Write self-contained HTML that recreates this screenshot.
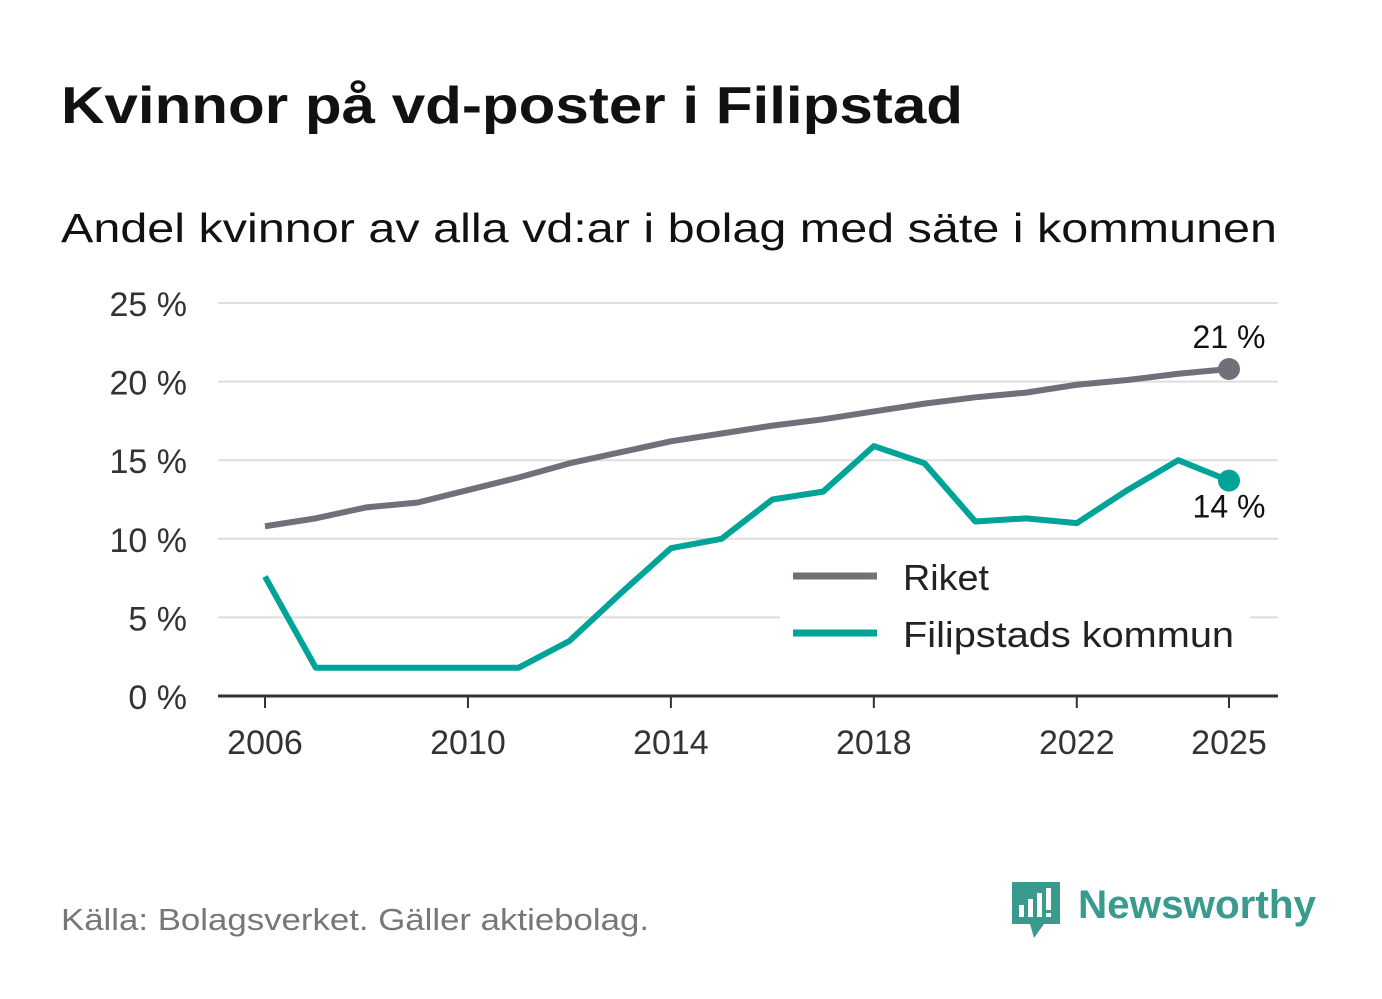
<!DOCTYPE html>
<html><head><meta charset="utf-8">
<style>
body{margin:0;background:#fff;width:1382px;height:999px;overflow:hidden;font-family:"Liberation Sans","DejaVu Sans",sans-serif;}
svg{display:block}
</style></head>
<body>
<svg id="chart" width="1382" height="999">
<text x="61" y="123" font-size="52" font-weight="bold" fill="#111" textLength="902" lengthAdjust="spacingAndGlyphs">Kvinnor på vd-poster i Filipstad</text>
<text x="61" y="242" font-size="41" fill="#111" textLength="1216" lengthAdjust="spacingAndGlyphs">Andel kvinnor av alla vd:ar i bolag med säte i kommunen</text>
<g id="grid"></g><g id="lines"></g>
<g>
<rect x="780" y="555" width="470" height="110" fill="#fff"/>
<line x1="793" y1="576" x2="877" y2="576" stroke="#707078" stroke-width="7"/>
<text x="903" y="590" font-size="36" fill="#222" textLength="86" lengthAdjust="spacingAndGlyphs">Riket</text>
<line x1="793" y1="633" x2="877" y2="633" stroke="#00a398" stroke-width="7"/>
<text x="903" y="647" font-size="36" fill="#222" textLength="331" lengthAdjust="spacingAndGlyphs">Filipstads kommun</text>
</g>
<text x="61" y="930" font-size="31" fill="#777" textLength="588" lengthAdjust="spacingAndGlyphs">Källa: Bolagsverket. Gäller aktiebolag.</text>
<g>
<path d="M1012 882 h48 v42 h-16 l-10 14 l-4 -14 h-18z" fill="#3a9a8e"/>
<rect x="1019" y="905" width="5" height="12" fill="#fff"/><rect x="1028" y="899" width="5" height="18" fill="#fff"/><rect x="1037" y="893" width="5" height="24" fill="#fff"/><rect x="1046" y="888" width="5" height="22" fill="#fff"/><rect x="1046" y="913" width="5" height="4" fill="#fff"/>
<text x="1078" y="918" font-size="40" font-weight="bold" fill="#3a9a8e" textLength="238" lengthAdjust="spacingAndGlyphs">Newsworthy</text>
</g>
</svg>
<script>
const years=[2006,2007,2008,2009,2010,2011,2012,2013,2014,2015,2016,2017,2018,2019,2020,2021,2022,2023,2024,2025];
const riket=[10.8,11.3,12.0,12.3,13.1,13.9,14.8,15.5,16.2,16.7,17.2,17.6,18.1,18.6,19.0,19.3,19.8,20.1,20.5,20.8];
const filipstad=[7.6,1.8,1.8,1.8,1.8,1.8,3.5,6.5,9.4,10.0,12.5,13.0,15.9,14.8,11.1,11.3,11.0,13.1,15.0,13.7];
const yTicks=[0,5,10,15,20,25];
const xTicks=[2006,2010,2014,2018,2022,2025];
const NS="http://www.w3.org/2000/svg";
const x=v=>265+(v-2006)*(1229-265)/19;
const y=v=>696-v*(696-303)/25;
function mk(tag,attrs,parent,txt){const e=document.createElementNS(NS,tag);for(const k in attrs)e.setAttribute(k,attrs[k]);if(txt!==undefined)e.textContent=txt;parent.appendChild(e);return e;}
const grid=document.getElementById('grid'),lines=document.getElementById('lines');
yTicks.forEach(t=>{
 const l=mk('line',{x1:218,x2:1278,y1:y(t),y2:y(t),stroke:t===0?'#333':'#ddd','stroke-width':t===0?3:2},grid);
 
 
 const tx=mk('text',{x:187,y:y(t)+13,'font-size':34,fill:'#333','text-anchor':'end'},grid,t+' %');
 
 
});
xTicks.forEach(t=>{
 const l=mk('line',{x1:x(t),x2:x(t),y1:696,y2:708,stroke:'#333','stroke-width':2},grid);
 
 
 const tx=mk('text',{x:x(t),y:754,'font-size':34,fill:'#333','text-anchor':'middle'},grid,String(t));
 
 
});
function series(vals,color,name,labelDy){
 const d=vals.map((v,i)=>(i?'L':'M')+x(years[i])+' '+y(v)).join(' ');
 const p=mk('path',{d:d,fill:'none',stroke:color,'stroke-width':6,'stroke-linejoin':'round'},lines);
 
 
 const n=vals.length-1;
 const c=mk('circle',{cx:x(years[n]),cy:y(vals[n]),r:11,fill:color},lines);
 
 
 const t=mk('text',{x:x(years[n]),y:y(vals[n])+labelDy,'font-size':32,fill:'#111','text-anchor':'middle'},lines,Math.round(vals[n])+' %');
 
 
}
series(riket,'#707078','riket',-21);
series(filipstad,'#00a398','filipstad',37);
</script>
</body></html>
